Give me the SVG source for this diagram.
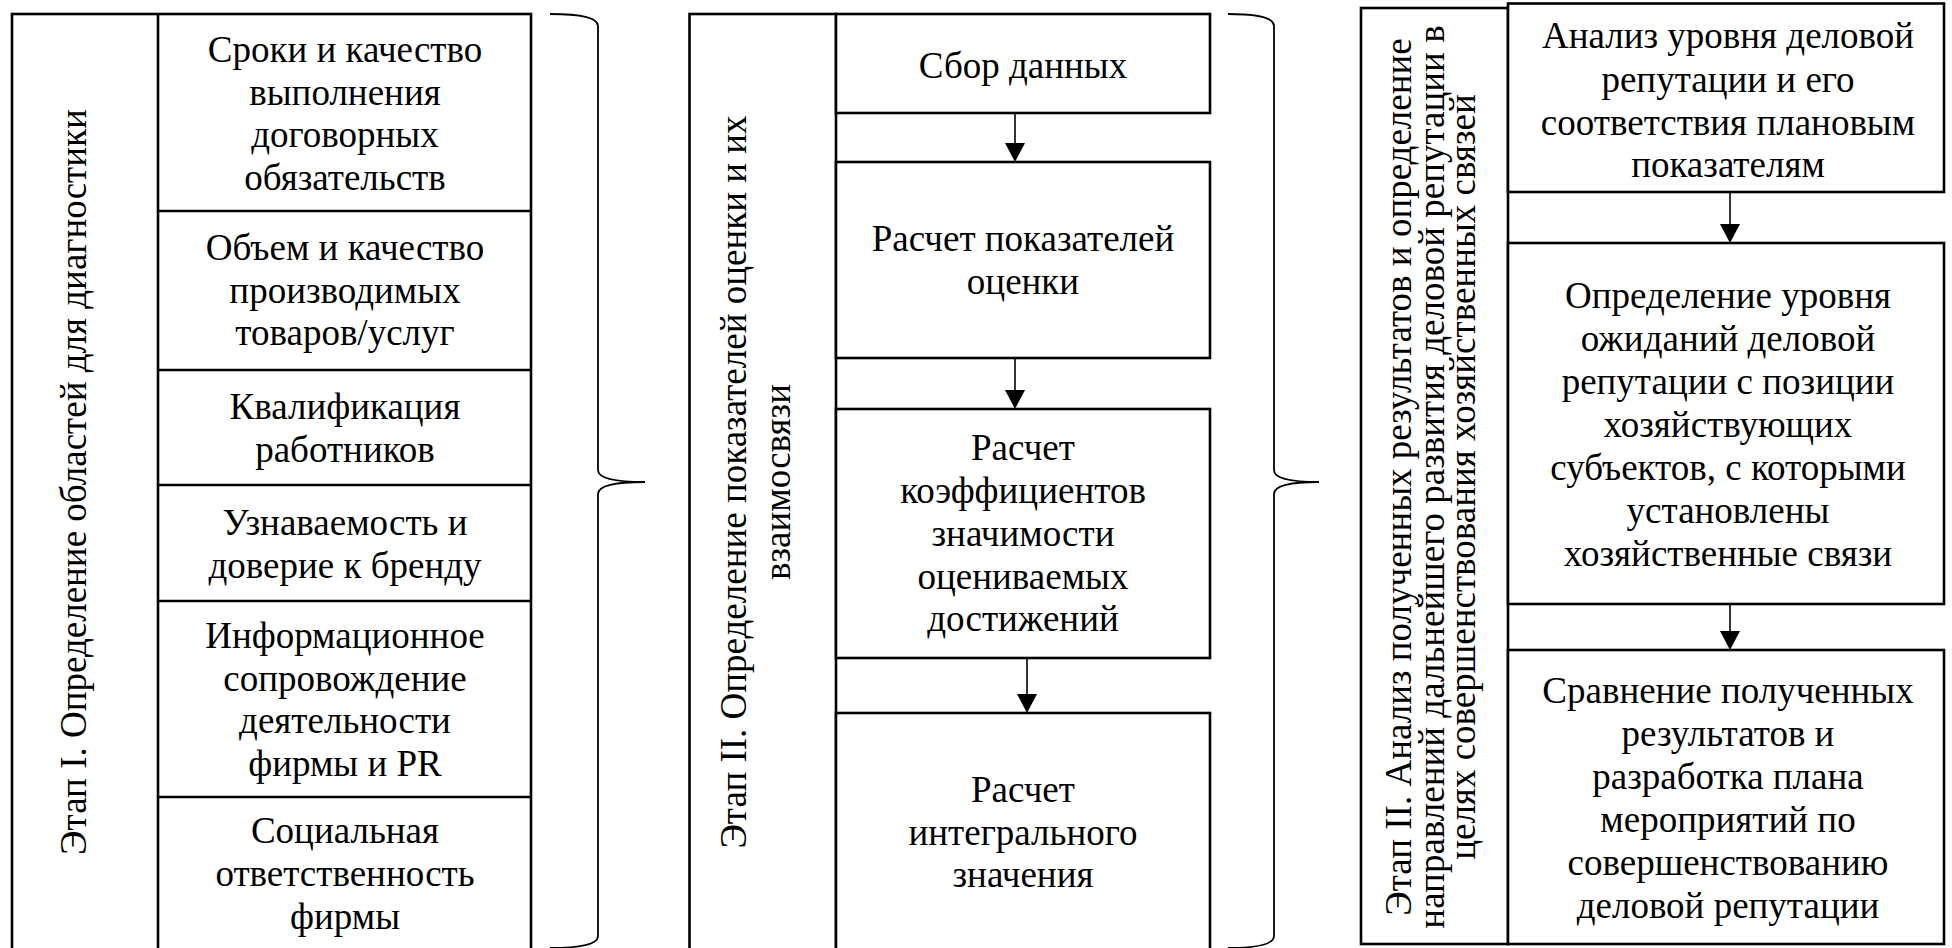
<svg xmlns="http://www.w3.org/2000/svg" width="1952" height="948" viewBox="0 0 1952 948">
<defs>
<style>
.box{fill:#fff;stroke:#000;stroke-width:2.6}
.ln{stroke:#000;stroke-width:2.6;fill:none}
.br{stroke:#000;stroke-width:1.8;fill:none}
.ar{stroke:#000;stroke-width:1.6;fill:none}
.ah{fill:#000;stroke:none}
text{font-family:"Liberation Serif","Times New Roman",serif;font-size:37px;fill:#000;text-anchor:middle}
</style>
</defs>
<rect width="1952" height="948" fill="#fff"/>

<g id="stage1">
<rect class="box" x="12" y="14" width="519" height="940"/>
<line class="ln" x1="158" y1="14" x2="158" y2="954"/>
<text transform="translate(86,482) rotate(-90)">Этап I. Определение областей для диагностики</text>
</g>
<g id="s1-box1">
<text x="345" y="62">Сроки и качество</text>
<text x="345" y="104.5">выполнения</text>
<text x="345" y="147">договорных</text>
<text x="345" y="189.5">обязательств</text>
</g>
<g id="s1-box2">
<line class="ln" x1="158" y1="211" x2="531" y2="211"/>
<text x="345" y="260">Объем и качество</text>
<text x="345" y="302.5">производимых</text>
<text x="345" y="345">товаров/услуг</text>
</g>
<g id="s1-box3">
<line class="ln" x1="158" y1="370" x2="531" y2="370"/>
<text x="345" y="419">Квалификация</text>
<text x="345" y="462">работников</text>
</g>
<g id="s1-box4">
<line class="ln" x1="158" y1="485" x2="531" y2="485"/>
<text x="345" y="535">Узнаваемость и</text>
<text x="345" y="578">доверие к бренду</text>
</g>
<g id="s1-box5">
<line class="ln" x1="158" y1="601" x2="531" y2="601"/>
<text x="345" y="648">Информационное</text>
<text x="345" y="690.5">сопровождение</text>
<text x="345" y="733">деятельности</text>
<text x="345" y="775.5">фирмы и PR</text>
</g>
<g id="s1-box6">
<line class="ln" x1="158" y1="797" x2="531" y2="797"/>
<text x="345" y="843">Социальная</text>
<text x="345" y="886">ответственность</text>
<text x="345" y="929">фирмы</text>
</g>
<g id="brace1">
<path class="br" d="M550,14 Q598,14 598,26 L598,470 Q598,482 645,482 Q598,482 598,494 L598,936 Q598,948 550,948"/>
</g>

<g id="stage2">
<rect class="box" x="689.5" y="14" width="146.5" height="940"/>
<text transform="translate(746,482) rotate(-90)">Этап II. Определение показателей оценки и их</text>
<text transform="translate(790,482) rotate(-90)">взаимосвязи</text>
</g>
<g id="s2-box1">
<rect class="box" x="836" y="14" width="374" height="99"/>
<text x="1023" y="78">Сбор данных</text>
</g>
<g id="s2-box2">
<rect class="box" x="836" y="162" width="374" height="196"/>
<text x="1023" y="251">Расчет показателей</text>
<text x="1023" y="294">оценки</text>
</g>
<g id="s2-box3">
<rect class="box" x="836" y="409" width="374" height="249"/>
<text x="1023" y="460">Расчет</text>
<text x="1023" y="503">коэффициентов</text>
<text x="1023" y="546">значимости</text>
<text x="1023" y="588.5">оцениваемых</text>
<text x="1023" y="631">достижений</text>
</g>
<g id="s2-box4">
<rect class="box" x="836" y="713" width="374" height="241"/>
<text x="1023" y="802">Расчет</text>
<text x="1023" y="844.5">интегрального</text>
<text x="1023" y="887">значения</text>
</g>
<g id="brace2">
<path class="br" d="M1228,14 Q1274,14 1274,26 L1274,470 Q1274,482 1319,482 Q1274,482 1274,494 L1274,936 Q1274,948 1228,948"/>
</g>

<g id="stage3">
<rect class="box" x="1361" y="8" width="147" height="936"/>
<text transform="translate(1411,477) rotate(-90)">Этап II. Анализ полученных результатов и определение</text>
<text transform="translate(1444,477) rotate(-90)">направлений дальнейшего развития деловой репутации в</text>
<text transform="translate(1475,477) rotate(-90)">целях совершенствования хозяйственных связей</text>
</g>
<g id="s3-box1">
<rect class="box" x="1508" y="3.5" width="436" height="188.5"/>
<text x="1728" y="48">Анализ уровня деловой</text>
<text x="1728" y="91.5">репутации и его</text>
<text x="1728" y="134.5">соответствия плановым</text>
<text x="1728" y="177">показателям</text>
</g>
<g id="s3-box2">
<rect class="box" x="1508" y="243" width="436" height="361"/>
<text x="1728" y="308">Определение уровня</text>
<text x="1728" y="351">ожиданий деловой</text>
<text x="1728" y="394">репутации с позиции</text>
<text x="1728" y="437">хозяйствующих</text>
<text x="1728" y="480">субъектов, с которыми</text>
<text x="1728" y="523">установлены</text>
<text x="1728" y="566">хозяйственные связи</text>
</g>
<g id="s3-box3">
<rect class="box" x="1508" y="650" width="436" height="294"/>
<text x="1728" y="703">Сравнение полученных</text>
<text x="1728" y="746">результатов и</text>
<text x="1728" y="789">разработка плана</text>
<text x="1728" y="832">мероприятий по</text>
<text x="1728" y="875">совершенствованию</text>
<text x="1728" y="918">деловой репутации</text>
</g>

<g id="connectors">
<line class="ar" x1="1015" y1="114" x2="1015" y2="143"/><path class="ah" d="M1005,143 L1025,143 L1015,162 Z"/>
<line class="ar" x1="1015" y1="359" x2="1015" y2="390"/><path class="ah" d="M1005,390 L1025,390 L1015,409 Z"/>
<line class="ar" x1="1027" y1="659" x2="1027" y2="694"/><path class="ah" d="M1017,694 L1037,694 L1027,713 Z"/>
<line class="ar" x1="1730" y1="193" x2="1730" y2="224"/><path class="ah" d="M1720,224 L1740,224 L1730,243 Z"/>
<line class="ar" x1="1730" y1="605" x2="1730" y2="631"/><path class="ah" d="M1720,631 L1740,631 L1730,650 Z"/>
</g>
</svg>
